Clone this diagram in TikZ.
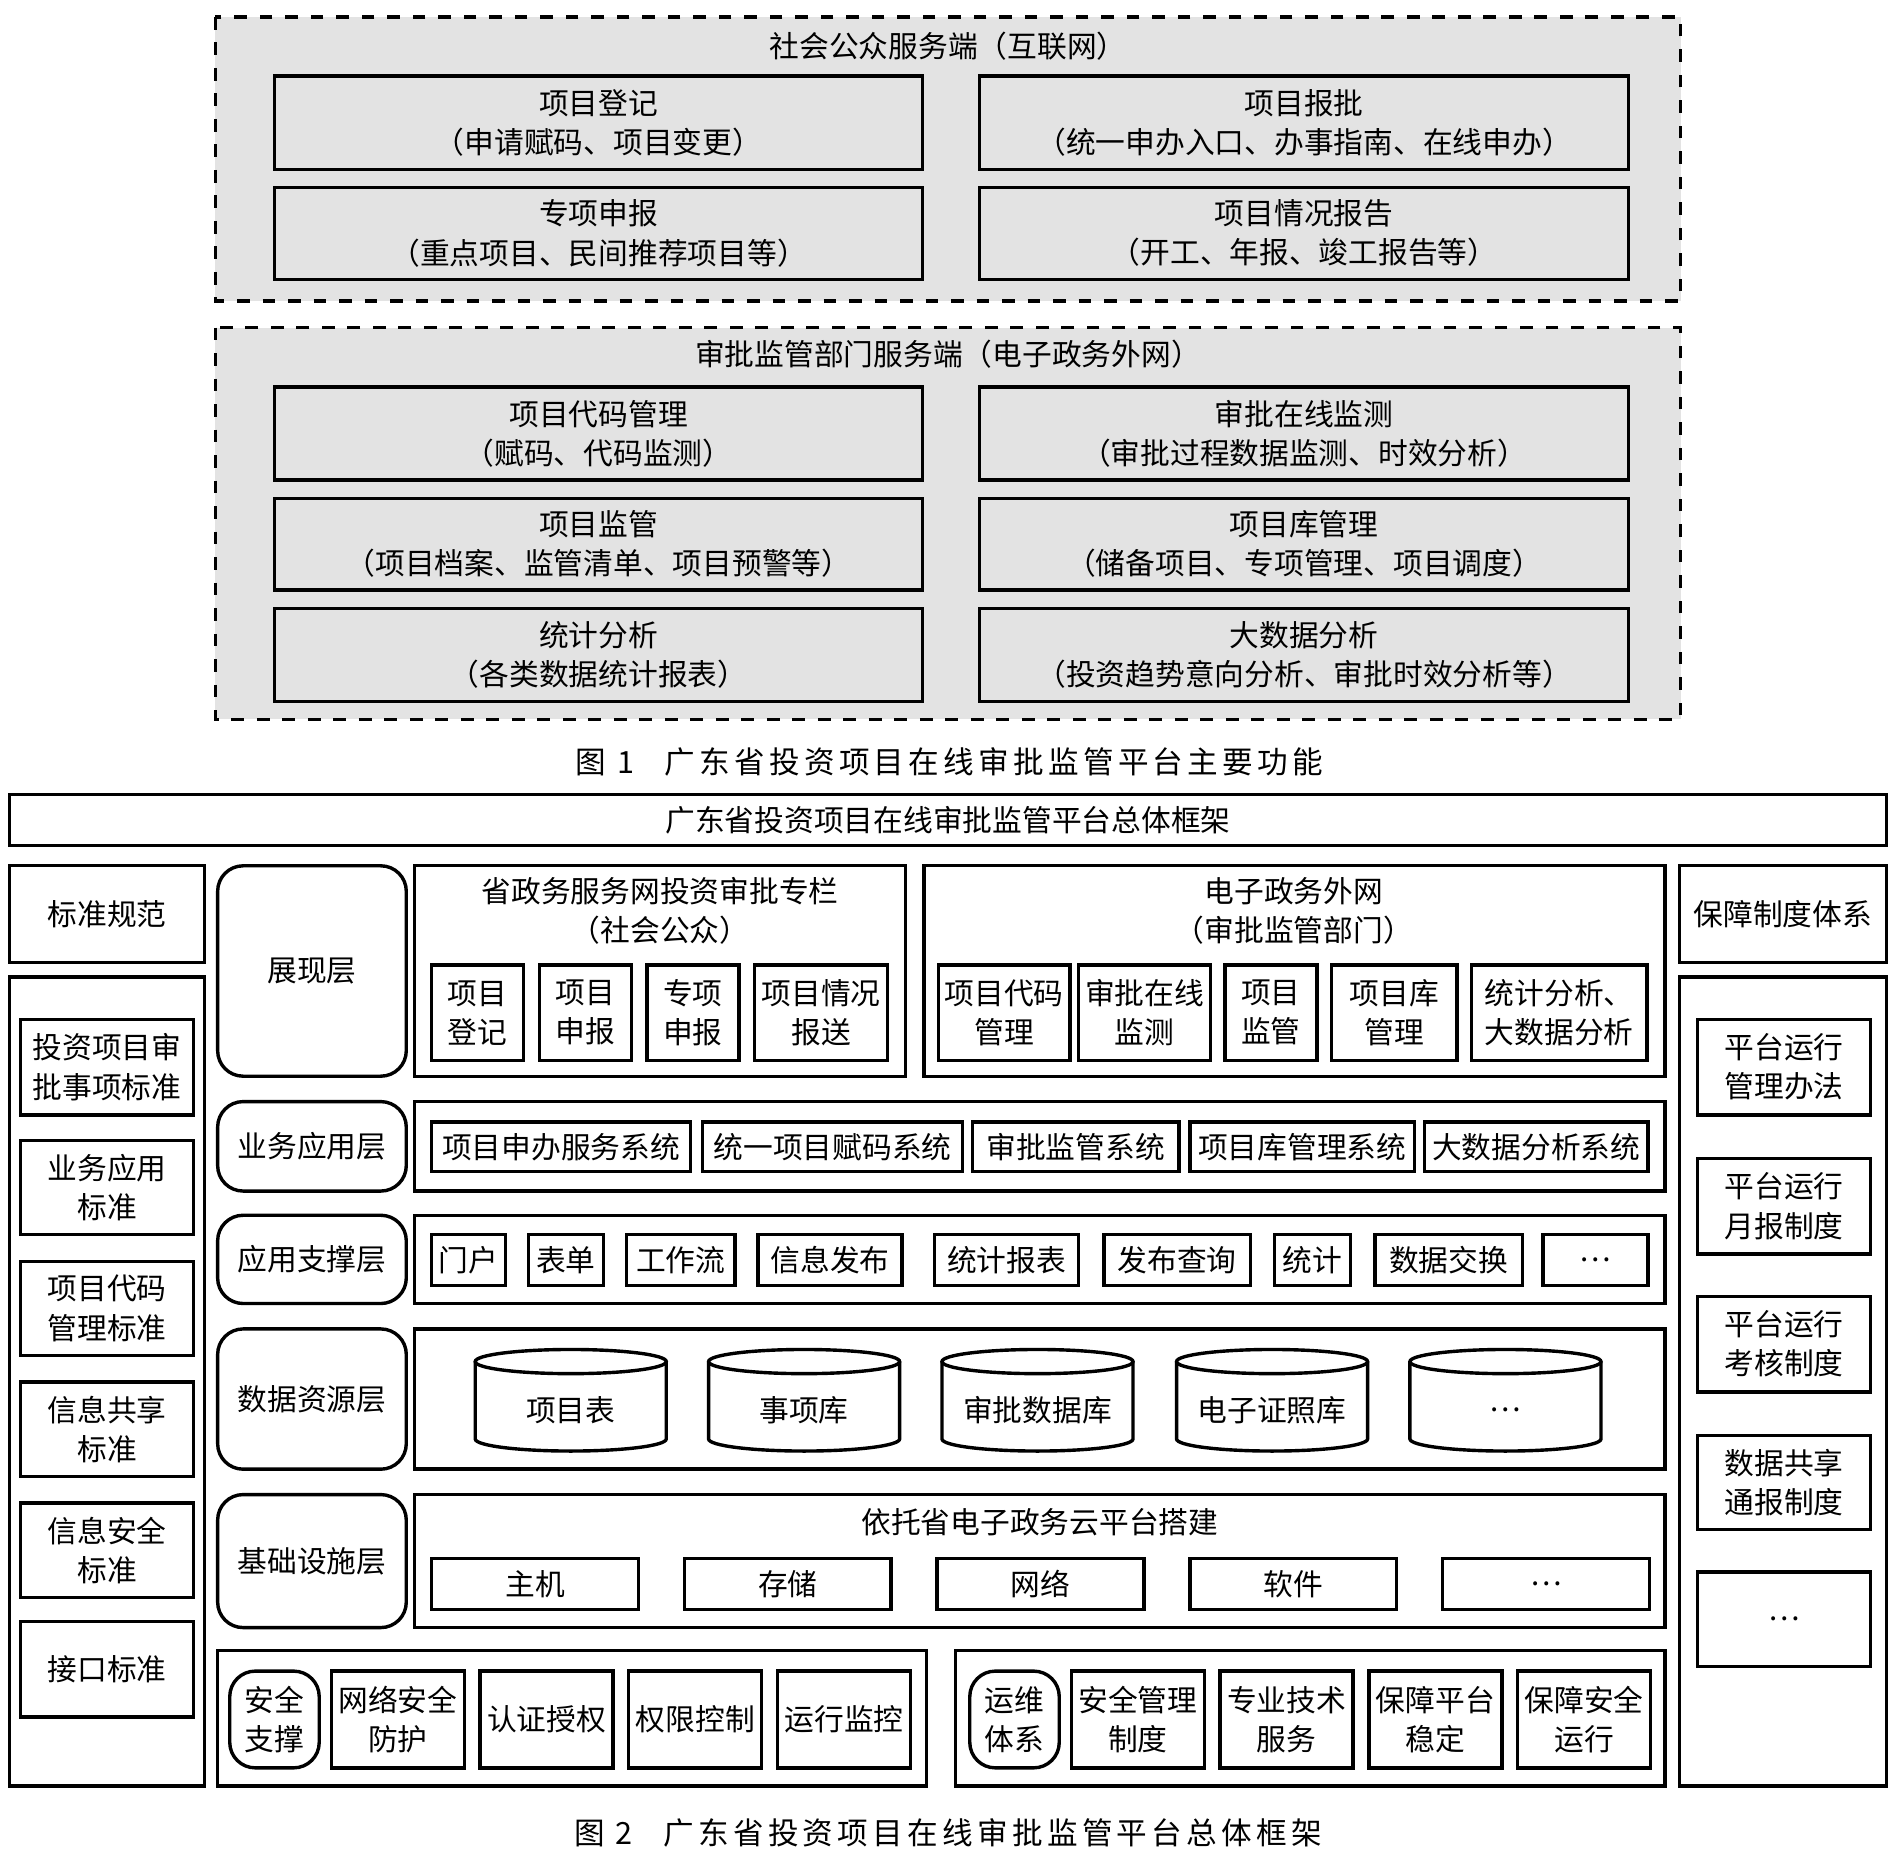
\documentclass[tikz,border=0pt]{standalone}
\usepackage{fontspec}
\setmainfont{Noto Sans CJK SC}
\newfontfamily\capfont[LetterSpace=14]{Noto Sans CJK SC}
\usetikzlibrary{positioning}

\tikzset{
	box/.style = {draw, thick, inner sep = 0pt, align = center, font = \fontsize{7}{9.2}\selectfont},
	layer/.style = {box, rounded corners = 6pt},
	group/.style = {draw, thick, dashed, fill = gray!22},
	frame/.style = {draw, thick}
}

% rectangle node given by its corners (in reference pixels)
\newcommand{\rbox}[7][]{%
	\pgfmathsetmacro\cx{(#3+#5)/200}\pgfmathsetmacro\cy{-(#4+#6)/200}%
	\pgfmathsetmacro\bw{(#5-#3)/100}\pgfmathsetmacro\bh{(#6-#4)/100}%
	\node[box, #1, minimum width = \bw cm, minimum height = \bh cm] (#2) at (\cx, \cy) {#7};}
% cylinder (database) centred at x
\newcommand{\dbase}[3]{%
	\pgfmathsetmacro\cx{#2/100}%
	\draw[thick, fill = white] (\cx-0.79, -11.26) -- (\cx-0.79, -11.90) arc (180:360:0.79 and 0.10) -- (\cx+0.79, -11.26);
	\draw[thick, fill = white] (\cx, -11.26) ellipse (0.79 and 0.10);
	\node[font = \fontsize{7}{9}\selectfont] (#1) at (\cx, -11.66) {#3};}

\begin{document}
\begin{tikzpicture}
	\useasboundingbox (0, 0) rectangle (15.68, -15.38);

	% Figure 1
	\draw[group] (1.78, -0.14) rectangle (13.90, -2.49);
	\node[font = \fontsize{7}{9}\selectfont] (pub) at (7.84, -0.38) {社会公众服务端（互联网）};
	\rbox{p1}{227}{63}{763}{140}{项目登记\\（申请赋码、项目变更）}
	\rbox{p2}{810}{63}{1347}{140}{项目报批\\（统一申办入口、办事指南、在线申办）}
	\rbox{p3}{227}{155}{763}{231}{专项申报\\（重点项目、民间推荐项目等）}
	\rbox{p4}{810}{155}{1347}{231}{项目情况报告\\（开工、年报、竣工报告等）}

	\draw[group] (1.78, -2.71) rectangle (13.90, -5.95);
	\node[font = \fontsize{7}{9}\selectfont] (gov) at (7.84, -2.93) {审批监管部门服务端（电子政务外网）};
	\rbox{g1}{227}{320}{763}{397}{项目代码管理\\（赋码、代码监测）}
	\rbox{g2}{810}{320}{1347}{397}{审批在线监测\\（审批过程数据监测、时效分析）}
	\rbox{g3}{227}{412}{763}{488}{项目监管\\（项目档案、监管清单、项目预警等）}
	\rbox{g4}{810}{412}{1347}{488}{项目库管理\\（储备项目、专项管理、项目调度）}
	\rbox{g5}{227}{503}{763}{580}{统计分析\\（各类数据统计报表）}
	\rbox{g6}{810}{503}{1347}{580}{大数据分析\\（投资趋势意向分析、审批时效分析等）}

	\node[font = \fontsize{7.2}{9}\selectfont\capfont] (cap1) at (7.85, -6.30) {图 1\quad 广东省投资项目在线审批监管平台主要功能};

	% Figure 2
	\rbox{top}{8}{657}{1560}{699}{广东省投资项目在线审批监管平台总体框架}

	% left column
	\rbox{std}{8}{716}{169}{796}{标准规范}
	\rbox{stdall}{8}{808}{169}{1477}{}
	\rbox{s1}{17}{843}{160}{922}{投资项目审\\批事项标准}
	\rbox{s2}{17}{943}{160}{1021}{业务应用\\标准}
	\rbox{s3}{17}{1043}{160}{1121}{项目代码\\管理标准}
	\rbox{s4}{17}{1143}{160}{1221}{信息共享\\标准}
	\rbox{s5}{17}{1243}{160}{1321}{信息安全\\标准}
	\rbox{s6}{17}{1341}{160}{1420}{接口标准}

	% right column
	\rbox{sup}{1389}{716}{1560}{796}{保障制度体系}
	\rbox{supall}{1389}{808}{1560}{1477}{}
	\rbox{r1}{1404}{843}{1547}{922}{平台运行\\管理办法}
	\rbox{r2}{1404}{958}{1547}{1037}{平台运行\\月报制度}
	\rbox{r3}{1404}{1072}{1547}{1151}{平台运行\\考核制度}
	\rbox{r4}{1404}{1187}{1547}{1265}{数据共享\\通报制度}
	\rbox{r5}{1404}{1300}{1547}{1378}{…}

	% layers
	\rbox[layer]{L1}{180}{716}{336}{890}{展现层}
	\rbox[layer]{L2}{180}{911}{336}{985}{业务应用层}
	\rbox[layer]{L3}{180}{1005}{336}{1078}{应用支撑层}
	\rbox[layer]{L4}{180}{1099}{336}{1215}{数据资源层}
	\rbox[layer]{L5}{180}{1236}{336}{1346}{基础设施层}

	% presentation layer
	\rbox{pl}{343}{716}{749}{890}{}
	\node[font = \fontsize{7}{9.2}\selectfont, align = center] (plt) at (5.46, -7.53) {省政务服务网投资审批专栏\\（社会公众）};
	\rbox{a1}{357}{798}{433}{877}{项目\\登记}
	\rbox{a2}{446}{798}{522}{877}{项目\\申报}
	\rbox{a3}{535}{798}{611}{877}{专项\\申报}
	\rbox{a4}{624}{798}{734}{877}{项目情况\\报送}
	\rbox{pr}{764}{716}{1377}{890}{}
	\node[font = \fontsize{7}{9.2}\selectfont, align = center] (prt) at (10.70, -7.53) {电子政务外网\\（审批监管部门）};
	\rbox{b1}{776}{798}{885}{877}{项目代码\\管理}
	\rbox{b2}{892}{798}{1001}{877}{审批在线\\监测}
	\rbox{b3}{1013}{798}{1089}{877}{项目\\监管}
	\rbox{b4}{1101}{798}{1205}{877}{项目库\\管理}
	\rbox{b5}{1217}{798}{1362}{877}{统计分析、\\大数据分析}

	% business layer
	\rbox{bl}{343}{911}{1377}{985}{}
	\rbox{c1}{357}{928}{571}{969}{项目申办服务系统}
	\rbox{c2}{581}{928}{796}{969}{统一项目赋码系统}
	\rbox{c3}{804}{928}{975}{969}{审批监管系统}
	\rbox{c4}{984}{928}{1170}{969}{项目库管理系统}
	\rbox{c5}{1178}{928}{1363}{969}{大数据分析系统}

	% support layer
	\rbox{sl}{343}{1005}{1377}{1078}{}
	\rbox{d1}{357}{1021}{418}{1063}{门户}
	\rbox{d2}{437}{1021}{499}{1063}{表单}
	\rbox{d3}{518}{1021}{608}{1063}{工作流}
	\rbox{d4}{627}{1021}{746}{1063}{信息发布}
	\rbox{d5}{773}{1021}{892}{1063}{统计报表}
	\rbox{d6}{913}{1021}{1034}{1063}{发布查询}
	\rbox{d7}{1054}{1021}{1117}{1063}{统计}
	\rbox{d8}{1137}{1021}{1259}{1063}{数据交换}
	\rbox{d9}{1276}{1021}{1363}{1063}{…}

	% data layer
	\rbox{dl}{343}{1099}{1377}{1215}{}
	\dbase{e1}{472}{项目表}
	\dbase{e2}{665}{事项库}
	\dbase{e3}{858}{审批数据库}
	\dbase{e4}{1052}{电子证照库}
	\dbase{e5}{1245}{…}

	% infrastructure layer
	\rbox{il}{343}{1236}{1377}{1346}{}
	\node[font = \fontsize{7}{9}\selectfont] (ilt) at (8.60, -12.59) {依托省电子政务云平台搭建};
	\rbox{f1}{357}{1289}{528}{1331}{主机}
	\rbox{f2}{566}{1289}{737}{1331}{存储}
	\rbox{f3}{775}{1289}{946}{1331}{网络}
	\rbox{f4}{984}{1289}{1155}{1331}{软件}
	\rbox{f5}{1193}{1289}{1364}{1331}{…}

	% security and operation
	\rbox{ql}{180}{1365}{766}{1477}{}
	\rbox[layer]{q1}{190}{1382}{264}{1462}{安全\\支撑}
	\rbox{q2}{274}{1382}{384}{1462}{网络安全\\防护}
	\rbox{q3}{397}{1382}{507}{1462}{认证授权}
	\rbox{q4}{520}{1382}{630}{1462}{权限控制}
	\rbox{q5}{643}{1382}{753}{1462}{运行监控}
	\rbox{ol}{790}{1365}{1377}{1477}{}
	\rbox[layer]{o1}{802}{1382}{876}{1462}{运维\\体系}
	\rbox{o2}{886}{1382}{996}{1462}{安全管理\\制度}
	\rbox{o3}{1009}{1382}{1119}{1462}{专业技术\\服务}
	\rbox{o4}{1132}{1382}{1242}{1462}{保障平台\\稳定}
	\rbox{o5}{1255}{1382}{1365}{1462}{保障安全\\运行}

	\node[font = \fontsize{7.2}{9}\selectfont\capfont] (cap2) at (7.84, -15.16) {图 2\quad 广东省投资项目在线审批监管平台总体框架};
\end{tikzpicture}
\end{document}
